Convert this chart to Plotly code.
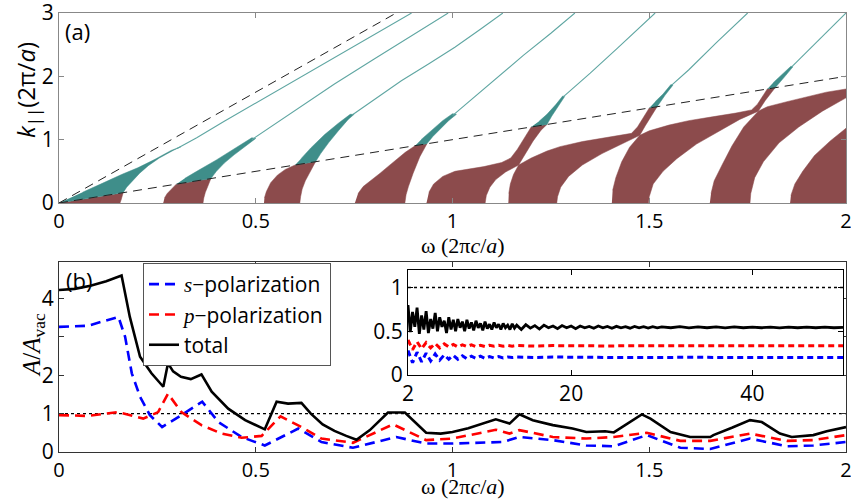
import plotly.graph_objects as go

# ---------------- panel (a): band diagram (omega, k) ----------------
light_w = [0.0, 2.0]          # vacuum light line k = omega
light_k = [0.0, 2.0]
si_w = [0.0, 0.857]           # light line in silicon
si_k = [0.0, 3.0]

# bands below the light line (maroon)
red_bands = {
    "M1": [(0, 0), (0.155, 0), (0.158, 0.05), (0.161, 0.10), (0.163, 0.163)],
    "M2": [(0.265, 0), (0.366, 0), (0.368, 0.08), (0.372, 0.17), (0.378, 0.26), (0.386, 0.386),
           (0.298, 0.298), (0.285, 0.22), (0.275, 0.15), (0.268, 0.08)],
    "M3": [(0.521, 0), (0.612, 0), (0.614, 0.1), (0.618, 0.22), (0.626, 0.35), (0.637, 0.48),
           (0.652, 0.652), (0.6, 0.6), (0.575, 0.53), (0.555, 0.44), (0.538, 0.32), (0.527, 0.18),
           (0.522, 0.08)],
    "M4": [(0.752, 0), (0.879, 0), (0.882, 0.13), (0.888, 0.26), (0.9, 0.47), (0.917, 0.73),
           (0.935, 0.935), (0.905, 0.905), (0.88, 0.80), (0.858, 0.68), (0.835, 0.57),
           (0.816, 0.47), (0.795, 0.37), (0.773, 0.26), (0.76, 0.15)],
    "M5": [(0.934, 0), (1.083, 0), (1.086, 0.12), (1.095, 0.25), (1.11, 0.37), (1.135, 0.49),
           (1.168, 0.6), (1.185, 0.78), (1.205, 0.98), (1.225, 1.15), (1.24, 1.24), (1.2, 1.2),
           (1.182, 1.02), (1.165, 0.85), (1.148, 0.71), (1.125, 0.64), (1.08, 0.575), (1.006, 0.5),
           (0.975, 0.42), (0.952, 0.3), (0.94, 0.17)],
    "M6": [(1.142, 0), (1.265, 0), (1.267, 0.1), (1.275, 0.25), (1.295, 0.42), (1.33, 0.6),
           (1.38, 0.78), (1.43, 0.93), (1.476, 1.07), (1.49, 1.22), (1.505, 1.38), (1.52, 1.52),
           (1.5, 1.5), (1.485, 1.35), (1.47, 1.2), (1.455, 1.1), (1.4, 1.04), (1.33, 0.97),
           (1.273, 0.89), (1.24, 0.82), (1.2, 0.71), (1.168, 0.6), (1.155, 0.45), (1.147, 0.3),
           (1.143, 0.15)],
    "M7": [(1.405, 0), (1.498, 0), (1.5, 0.1), (1.51, 0.3), (1.535, 0.5), (1.57, 0.7),
           (1.62, 0.93), (1.68, 1.15), (1.73, 1.32), (1.777, 1.45), (1.795, 1.62), (1.81, 1.74),
           (1.82, 1.82), (1.8, 1.8), (1.79, 1.7), (1.775, 1.56), (1.76, 1.47), (1.72, 1.42),
           (1.66, 1.36), (1.6, 1.3), (1.55, 1.23), (1.5, 1.14), (1.476, 1.07), (1.45, 0.88),
           (1.43, 0.65), (1.415, 0.4), (1.407, 0.2)],
    "M8": [(1.654, 0), (1.756, 0), (1.758, 0.15), (1.768, 0.4), (1.79, 0.65), (1.83, 0.95),
           (1.88, 1.2), (1.94, 1.45), (2.0, 1.66), (2.0, 1.8), (1.95, 1.75), (1.9, 1.68),
           (1.85, 1.6), (1.8, 1.52), (1.777, 1.45), (1.74, 1.2), (1.71, 0.9), (1.685, 0.6),
           (1.665, 0.35), (1.657, 0.15)],
    "M9": [(1.858, 0), (2.0, 0), (2.0, 1.18), (1.96, 0.98), (1.92, 0.75), (1.89, 0.5),
           (1.87, 0.3), (1.86, 0.12)],
}

# bands above the light line (teal)
teal_bands = {
    "T1": [(0, 0), (0.163, 0.163), (0.172, 0.25), (0.185, 0.34), (0.205, 0.47), (0.227, 0.59),
           (0.255, 0.71), (0.29, 0.83), (0.31, 0.89), (0.285, 0.83), (0.244, 0.69), (0.2, 0.555),
           (0.159, 0.45), (0.11, 0.31), (0.06, 0.17)],
    "T2": [(0.298, 0.298), (0.386, 0.386), (0.4, 0.5), (0.42, 0.63), (0.445, 0.76), (0.47, 0.88),
           (0.5, 1.02), (0.49, 1.03), (0.45, 0.87), (0.4, 0.68), (0.35, 0.5), (0.32, 0.39)],
    "T3": [(0.6, 0.6), (0.652, 0.652), (0.665, 0.78), (0.685, 0.95), (0.71, 1.14), (0.735, 1.32),
           (0.75, 1.40), (0.74, 1.40), (0.71, 1.26), (0.675, 1.08), (0.64, 0.87), (0.615, 0.7)],
    "T4": [(0.905, 0.905), (0.935, 0.935), (0.95, 1.05), (0.97, 1.18), (0.99, 1.3), (1.01, 1.4),
           (1.0, 1.41), (0.975, 1.3), (0.945, 1.13), (0.92, 1.0)],
    "T5": [(1.2, 1.2), (1.24, 1.24), (1.252, 1.37), (1.268, 1.52), (1.285, 1.68), (1.28, 1.69),
           (1.262, 1.55), (1.24, 1.4), (1.22, 1.29)],
    "T6": [(1.5, 1.5), (1.52, 1.52), (1.54, 1.7), (1.56, 1.86), (1.555, 1.87), (1.535, 1.72),
           (1.515, 1.6)],
    "T7": [(1.8, 1.8), (1.82, 1.82), (1.845, 2.0), (1.865, 2.15), (1.86, 2.16), (1.835, 2.01),
           (1.815, 1.9)],
}

# thin guided-mode lines continuing the teal bands
teal_lines = {
    "L1": [(0.30, 0.86), (0.35, 1.03), (0.42, 1.29), (0.498, 1.57), (0.612, 1.98), (0.75, 2.48), (0.896, 3.0)],
    "L2": [(0.49, 1.0), (0.55, 1.25), (0.612, 1.52), (0.7, 1.88), (0.8, 2.27), (0.9, 2.65), (0.989, 3.0)],
    "L3": [(0.745, 1.39), (0.8, 1.63), (0.87, 1.93), (0.94, 2.2), (1.006, 2.46), (1.07, 2.74), (1.128, 3.0)],
    "L4": [(1.0, 1.38), (1.06, 1.7), (1.12, 2.02), (1.18, 2.33), (1.25, 2.68), (1.311, 3.0)],
    "L5": [(1.282, 1.68), (1.35, 2.05), (1.42, 2.45), (1.515, 3.0)],
    "L6": [(1.557, 1.86), (1.6, 2.1), (1.67, 2.53), (1.75, 3.0)],
    "L7": [(1.862, 2.15), (1.92, 2.51), (2.0, 3.0)],
}

# ---------------- panel (b): A/A_vac vs omega ----------------
w_tot = [0, 0.04, 0.08, 0.12, 0.159, 0.18, 0.206, 0.235, 0.265, 0.277, 0.29, 0.31, 0.335, 0.362,
         0.388, 0.43, 0.473, 0.523, 0.553, 0.582, 0.616, 0.64, 0.67, 0.70, 0.73, 0.756, 0.79,
         0.836, 0.879, 0.933, 0.97, 1.0, 1.04, 1.085, 1.11, 1.145, 1.17, 1.204, 1.255, 1.305,
         1.34, 1.388, 1.41, 1.481, 1.503, 1.554, 1.604, 1.655, 1.663, 1.71, 1.756, 1.786, 1.832,
         1.862, 1.917, 1.951, 2.0]
a_tot = [4.22, 4.25, 4.33, 4.45, 4.6, 3.52, 2.48, 2.05, 1.70, 2.31, 2.1, 1.96, 1.9, 2.02,
         1.57, 1.13, 0.83, 0.59, 1.31, 1.26, 1.28, 1.0, 0.72, 0.55, 0.42, 0.32, 0.57,
         1.03, 1.03, 0.5, 0.48, 0.52, 0.62, 0.78, 0.85, 0.74, 0.98, 0.83, 0.70, 0.61,
         0.52, 0.54, 0.51, 0.98, 0.87, 0.52, 0.39, 0.39, 0.44, 0.63, 0.83, 0.78, 0.48,
         0.39, 0.44, 0.54, 0.65]

w_s = [0, 0.074, 0.151, 0.168, 0.185, 0.206, 0.231, 0.262, 0.311, 0.364, 0.405, 0.464, 0.523,
       0.608, 0.667, 0.747, 0.857, 0.933, 1.0, 1.128, 1.17, 1.255, 1.34, 1.41, 1.494, 1.579,
       1.655, 1.756, 1.85, 1.917, 2.0]
a_s = [3.26, 3.29, 3.52, 3.0, 2.05, 1.44, 0.96, 0.65, 0.96, 1.31, 0.78, 0.39, 0.17,
       0.61, 0.26, 0.11, 0.39, 0.22, 0.22, 0.26, 0.39, 0.31, 0.17, 0.15, 0.44, 0.11,
       0.08, 0.35, 0.15, 0.17, 0.26]

w_p = [0, 0.074, 0.15, 0.214, 0.252, 0.277, 0.311, 0.362, 0.413, 0.464, 0.515, 0.563, 0.616,
       0.667, 0.747, 0.849, 0.933, 1.0, 1.11, 1.145, 1.17, 1.255, 1.34, 1.41, 1.494, 1.579,
       1.655, 1.756, 1.85, 1.917, 2.0]
a_p = [0.96, 0.94, 1.04, 0.87, 1.04, 1.52, 1.04, 0.7, 0.48, 0.37, 0.42, 0.93, 0.65,
       0.35, 0.24, 0.72, 0.31, 0.35, 0.58, 0.48, 0.57, 0.39, 0.35, 0.39, 0.5, 0.29,
       0.29, 0.48, 0.29, 0.31, 0.44]

# inset: long-range behaviour
w_in_tot = ([2 + 0.25 * i for i in range(49)] + [14.5 + 0.5 * i for i in range(32)]
            + [31 + i for i in range(20)])
a_in_tot = [0.80, 0.49, 0.72, 0.55, 0.77, 0.47, 0.68, 0.52, 0.73,
            0.48, 0.64, 0.53, 0.71, 0.50, 0.66, 0.55, 0.62,
            0.48, 0.66, 0.52, 0.63, 0.50, 0.64, 0.54, 0.61,
            0.50, 0.63, 0.53, 0.60, 0.51, 0.62, 0.54, 0.59,
            0.51, 0.61, 0.53, 0.58, 0.52, 0.60, 0.54, 0.58,
            0.52, 0.59, 0.54, 0.57, 0.52, 0.585, 0.535, 0.57,
            0.52, 0.575, 0.535, 0.565, 0.525, 0.57, 0.54, 0.56, 0.53, 0.565, 0.54, 0.56,
            0.53, 0.56, 0.54, 0.555, 0.535, 0.56, 0.54, 0.555, 0.535, 0.556, 0.54, 0.553,
            0.535, 0.555, 0.54, 0.553, 0.537, 0.553, 0.54, 0.55,
            0.54, 0.552, 0.538, 0.55, 0.54, 0.55, 0.538, 0.55, 0.54, 0.548, 0.54, 0.548,
            0.538, 0.548, 0.54, 0.547, 0.54, 0.547, 0.54, 0.545]
w_in_pol = [2 + 0.5 * i for i in range(25)] + [16 + 2 * i for i in range(18)]
a_in_p = [0.40, 0.29, 0.38, 0.30, 0.37, 0.31, 0.36, 0.31, 0.355, 0.32, 0.35, 0.32, 0.345,
          0.325, 0.345, 0.325, 0.34, 0.325, 0.34, 0.33, 0.34, 0.33, 0.338, 0.33, 0.337,
          0.33, 0.336, 0.332, 0.335, 0.332, 0.334, 0.333, 0.334, 0.333, 0.334, 0.333, 0.334,
          0.333, 0.333, 0.334, 0.333, 0.333, 0.333]
a_in_s = [0.28, 0.14, 0.26, 0.15, 0.25, 0.16, 0.24, 0.17, 0.23, 0.18, 0.225, 0.18, 0.22,
          0.185, 0.215, 0.19, 0.215, 0.19, 0.21, 0.195, 0.21, 0.195, 0.205, 0.2, 0.205,
          0.2, 0.205, 0.2, 0.203, 0.2, 0.202, 0.2, 0.202, 0.201, 0.202, 0.201, 0.201,
          0.201, 0.201, 0.201, 0.201, 0.201, 0.201]

# ---------------- styling ----------------
MAROON = "#8c4b4c"
TEAL = "#3f8e8a"
TEAL_LINE = "#5fa6a2"
SANS = "Open Sans"
SERIF = "Liberation Serif"
W, H = 851, 502

def px_x(p):
    return p / W

def px_y(p):
    return 1 - p / H

fig = go.Figure()

for name, poly in red_bands.items():
    fig.add_trace(go.Scatter(x=[p[0] for p in poly], y=[p[1] for p in poly], fill="toself",
                             fillcolor=MAROON, line=dict(color=MAROON, width=0.5), mode="lines",
                             hoverinfo="skip", showlegend=False, xaxis="x", yaxis="y"))
for name, poly in teal_bands.items():
    fig.add_trace(go.Scatter(x=[p[0] for p in poly], y=[p[1] for p in poly], fill="toself",
                             fillcolor=TEAL, line=dict(color=TEAL, width=0.5), mode="lines",
                             hoverinfo="skip", showlegend=False, xaxis="x", yaxis="y"))
for name, pts in teal_lines.items():
    fig.add_trace(go.Scatter(x=[p[0] for p in pts], y=[p[1] for p in pts], mode="lines",
                             line=dict(color=TEAL_LINE, width=1.1), hoverinfo="skip",
                             showlegend=False, xaxis="x", yaxis="y"))

for xs, ys in ((light_w, light_k), (si_w, si_k)):
    fig.add_trace(go.Scatter(x=xs, y=ys, mode="lines",
                             line=dict(color="#222222", width=1, dash="9px,6px"),
                             hoverinfo="skip", showlegend=False, xaxis="x", yaxis="y"))

# panel (b)
fig.add_trace(go.Scatter(x=[0, 2], y=[1, 1], mode="lines", line=dict(color="black", width=1.3, dash="dot"),
                         showlegend=False, hoverinfo="skip", xaxis="x2", yaxis="y2"))
fig.add_trace(go.Scatter(x=w_s, y=a_s, mode="lines", name="<i style='font-family:Liberation Serif'>s</i>−polarization",
                         line=dict(color="#0000ff", width=2.6, dash="10px,6px"), xaxis="x2", yaxis="y2"))
fig.add_trace(go.Scatter(x=w_p, y=a_p, mode="lines", name="<i style='font-family:Liberation Serif'>p</i>−polarization",
                         line=dict(color="#ff0000", width=2.6, dash="10px,6px"), xaxis="x2", yaxis="y2"))
fig.add_trace(go.Scatter(x=w_tot, y=a_tot, mode="lines", name="total",
                         line=dict(color="black", width=2.6), xaxis="x2", yaxis="y2"))

# inset
fig.add_trace(go.Scatter(x=[2, 50], y=[1, 1], mode="lines", line=dict(color="black", width=1.3, dash="dot"),
                         showlegend=False, hoverinfo="skip", xaxis="x3", yaxis="y3"))
fig.add_trace(go.Scatter(x=w_in_tot, y=a_in_tot, mode="lines", line=dict(color="black", width=2.8),
                         showlegend=False, xaxis="x3", yaxis="y3"))
fig.add_trace(go.Scatter(x=w_in_pol, y=a_in_p, mode="lines", line=dict(color="#ff0000", width=3, dash="6px,4px"),
                         showlegend=False, xaxis="x3", yaxis="y3"))
fig.add_trace(go.Scatter(x=w_in_pol, y=a_in_s, mode="lines", line=dict(color="#0000ff", width=3, dash="6px,4px"),
                         showlegend=False, xaxis="x3", yaxis="y3"))

tickfont = dict(family=SANS, size=21, color="black")
xtickfont = dict(family=SANS, size=20, color="black")
base = dict(showgrid=False, zeroline=False, showline=True, mirror="ticks", ticks="inside",
            ticklen=5, automargin=False, ticklabeloverflow="allow")
common = dict(base, tickfont=tickfont)
commonx = dict(base, tickfont=xtickfont)

xdom = [px_x(59), px_x(846)]
fig.update_layout(
    template="none",
    width=W, height=H, margin=dict(l=0, r=0, t=0, b=0, pad=0),
    paper_bgcolor="white", plot_bgcolor="white",
    xaxis=dict(domain=xdom, range=[0, 2], anchor="y", tickvals=[0, 0.5, 1, 1.5, 2],
               ticktext=["0", "0.5", "1", "1.5", "2"], linecolor="#888", tickcolor="#888",
               **commonx),
    yaxis=dict(domain=[px_y(203), px_y(13)], range=[0, 3], anchor="x", tickvals=[0, 1, 2, 3],
               ticktext=["0", "1", "2", "3"], linecolor="#888", tickcolor="#888", **common),
    xaxis2=dict(domain=xdom, range=[0, 2], anchor="y2", tickvals=[0, 0.5, 1, 1.5, 2],
                ticktext=["0", "0.5", "1", "1.5", "2"], linecolor="#333", tickcolor="#333",
                **commonx),
    yaxis2=dict(domain=[px_y(452), px_y(262)], range=[0, 4.95], anchor="x2",
                tickvals=[0, 1, 2, 3, 4], ticktext=["0", "1", "2", " ", "4"],
                linecolor="#333", tickcolor="#333", **common),
    xaxis3=dict(domain=[px_x(408), px_x(843)], range=[2, 50], anchor="y3", tickvals=[2, 20, 40],
                ticktext=["2", "20", "40"], linecolor="black", tickcolor="black", **common),
    yaxis3=dict(domain=[px_y(375), px_y(270)], range=[0, 1.2], anchor="x3",
                tickvals=[0, 0.5, 1], ticktext=["0", "0.5", "1"], linecolor="black",
                tickcolor="black", **common),
    legend=dict(x=px_x(143), y=px_y(263), xanchor="left", yanchor="top",
                bordercolor="#555", borderwidth=1, bgcolor="white",
                font=dict(family=SANS, size=21, color="black"), tracegroupgap=0),
    showlegend=True,
)

annos = [
    dict(text="(a)", x=px_x(63), y=px_y(31), xanchor="left", yanchor="middle",
         font=dict(family=SANS, size=22)),
    dict(text="(b)", x=px_x(64), y=px_y(280), xanchor="left", yanchor="middle",
         font=dict(family=SANS, size=22)),
    dict(text="<i>k</i><sub>||</sub>(2π/<i>a</i>)", x=px_x(27), y=px_y(90), textangle=-90,
         xanchor="center", yanchor="middle", font=dict(family=SANS, size=24)),
    dict(text="<i>A</i>/<i>A</i><sub>vac</sub>", x=px_x(33), y=px_y(345), textangle=-90,
         xanchor="center", yanchor="middle", font=dict(family=SERIF, size=25)),
    dict(text="ω (2π<i>c</i>/<i>a</i>)", x=px_x(463), y=px_y(245), xanchor="center",
         yanchor="middle", font=dict(family=SERIF, size=22)),
    dict(text="ω (2π<i>c</i>/<i>a</i>)", x=px_x(463), y=px_y(501), xanchor="center",
         yanchor="bottom", font=dict(family=SERIF, size=22)),
]
for a in annos:
    a.update(xref="paper", yref="paper", showarrow=False)
    a["font"].setdefault("color", "black")
fig.update_layout(annotations=annos)

fig.write_html("out.html")
